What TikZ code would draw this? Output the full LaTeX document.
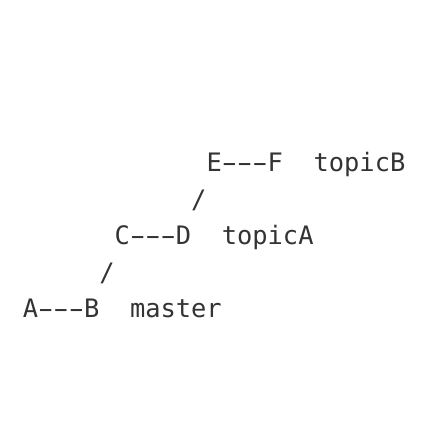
\documentclass[tikz,border=0pt]{standalone}
\usepackage{fontspec}
\setmonofont{DejaVu Sans Mono}
\newcommand\longdash{\makebox[0.602em]{\scalebox{1.75}[1]{-}}}
\begin{document}
\begin{tikzpicture}[x=7.65pt,y=18.25pt,every node/.style={font=\ttfamily\fontsize{12.7}{15}\selectfont,anchor=base west,inner sep=0pt,text=black!80}]
  \useasboundingbox (-11.25pt,-57pt) rectangle (204.75pt,159pt);
  \node (AB) at (0,0) {A\longdash\longdash\longdash B};
  \node (master) at (7,0) {master};
  \node (slashA) at (5,1) {/};
  \node (CD) at (6,2) {C\longdash\longdash\longdash D};
  \node (topicA) at (13,2) {topicA};
  \node (slashB) at (11,3) {/};
  \node (EF) at (12,4) {E\longdash\longdash\longdash F};
  \node (topicB) at (19,4) {topicB};
\end{tikzpicture}
\end{document}
